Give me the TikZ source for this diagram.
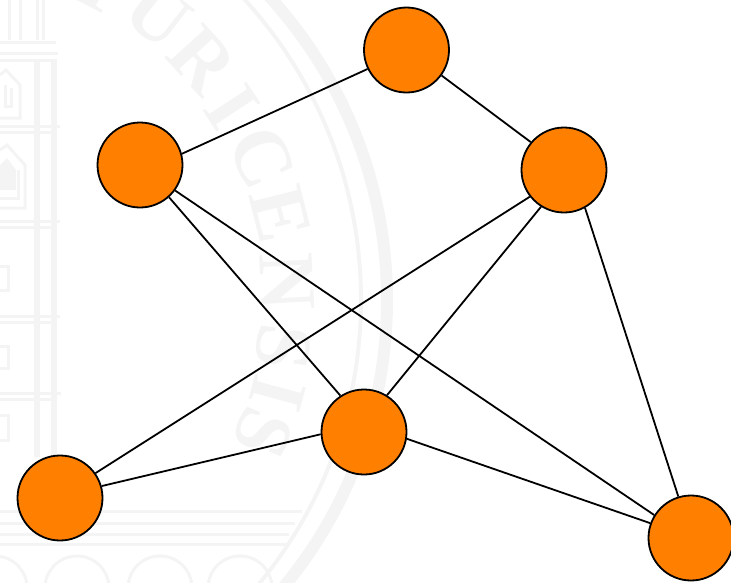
\documentclass[tikz,border=0pt]{standalone}
\usepackage{fontspec}
\setmainfont{Liberation Serif}
\definecolor{seal}{HTML}{F4F4F4}
\definecolor{nodeorange}{HTML}{FF8000}
\tikzset{
  vertex/.style={circle,draw=black,fill=nodeorange,line width=1.8pt,inner sep=0pt,minimum size=85pt},
  edgeline/.style={draw=black,line width=1.8pt},
  sealline/.style={draw=seal,line width=3pt},
  sealletter/.style={text=seal,font=\bfseries\fontsize{80}{80}\selectfont,inner sep=0pt}
}
\begin{document}
\begin{tikzpicture}[x=1pt,y=-1pt]
\useasboundingbox (0,0) rectangle (731,582);
\begin{scope}
\clip (0,0) rectangle (731,582);
% seal rings
\draw[seal,line width=12pt] (-63,300) circle (450);
\draw[seal,line width=4pt] (-85,300) circle (446);
% lettering
\node[sealletter,rotate=-27.3] at (101,-17) {T};
\node[sealletter,rotate=-37.8] at (158,15) {U};
\node[sealletter,rotate=-47.8] at (202,60) {R};
\node[sealletter,rotate=-56.8] at (232,107) {I};
\node[sealletter,rotate=-66.3] at (262,157) {C};
\node[sealletter,rotate=-75.9] at (280,214) {E};
\node[sealletter,rotate=-87] at (287,282) {N};
\node[sealletter,rotate=-97.7] at (283,347) {S};
\node[sealletter,rotate=-105.3] at (278,393) {I};
\node[sealletter,rotate=-112.2] at (263,433) {S};
% tower
\foreach \yy/\xe in {42/56,53/58,60/57,126/60,132/57,221/60,227/57,316/60,322/57,393/61,399/57}
  \draw[sealline] (0,\yy) -- (\xe,\yy);
\foreach \xx in {35,38,52,55}
  \draw[sealline] (\xx,60) -- (\xx,457);
\foreach \xx in {9,20,37,43}
  \draw[sealline] (\xx,0) -- (\xx,40);
\draw[sealline] (0,75) -- (6,70) -- (20,85) -- (20,118) -- (0,118);
\draw[sealline] (5,85) -- (5,106) -- (11,106) -- (11,88);
\draw[sealline] (0,150) -- (7,145) -- (25,165) -- (25,208) -- (0,208);
\draw[sealline] (0,198) -- (18,198) -- (18,170);
\fill[seal] (0,165) -- (7,158) -- (16,170) -- (16,190) -- (0,190) -- cycle;
\draw[sealline] (0,266) -- (8,266) -- (8,290) -- (0,290);
\draw[sealline] (0,346) -- (8,346) -- (8,368) -- (0,368);
\draw[sealline] (0,415) -- (8,415) -- (8,440) -- (0,440);
% base of the seal
\foreach \yy/\xe in {511/302,523/295,534/289,544/287}
  \draw[sealline] (0,\yy) -- (\xe,\yy);
\foreach \xx in {-5,77,160,240}
  \draw[sealline] (\xx,588) circle (32);
\end{scope}
% vertices
\node[vertex] (top) at (406.5,50) {};
\node[vertex] (left) at (140,165) {};
\node[vertex] (right) at (564,170) {};
\node[vertex] (mid) at (364,432) {};
\node[vertex] (botleft) at (60,498) {};
\node[vertex] (botright) at (691,538) {};
% edges
\draw[edgeline] (left.15.6) -- (top.206.8);
\draw[edgeline] (top.-36) -- (right.140);
\draw[edgeline] (left.-48) -- (mid.123.7);
\draw[edgeline] (left.-36) -- (botright.148.2);
\draw[edgeline] (right.218) -- (botleft.35);
\draw[edgeline] (right.238.8) -- (mid.58.5);
\draw[edgeline] (right.-61.6) -- (botright.107);
\draw[edgeline] (botleft.16) -- (mid.183);
\draw[edgeline] (mid.-9) -- (botright.160);
\end{tikzpicture}
\end{document}
